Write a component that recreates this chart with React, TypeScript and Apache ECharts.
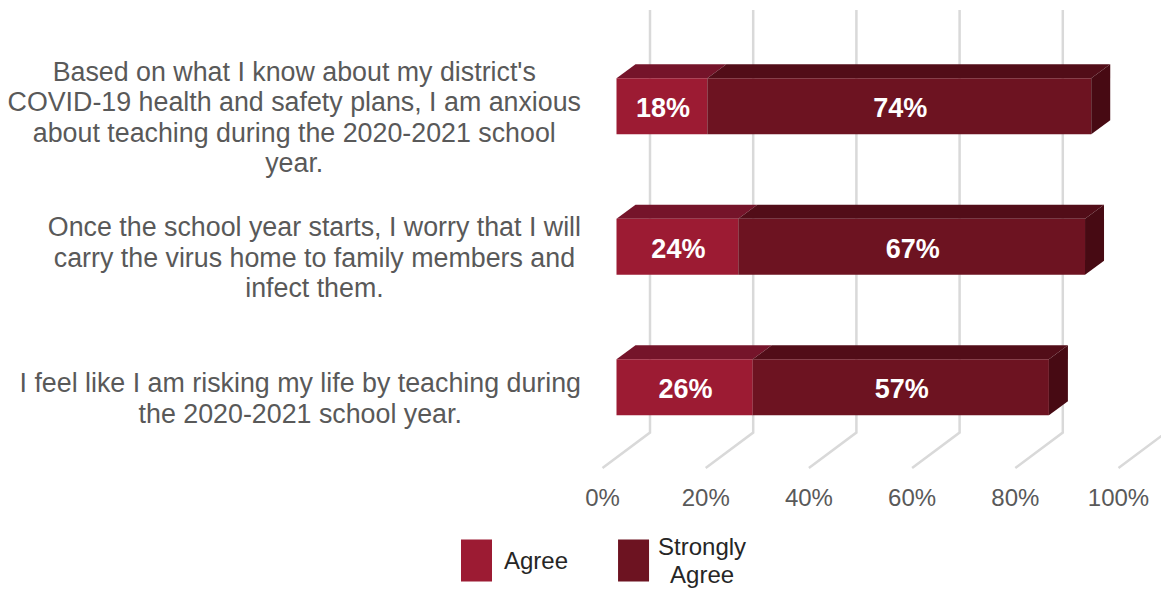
import React, { useEffect, useRef } from "react";
import * as echarts from "echarts";

const categories = [
  "Based on what I know about my district's\nCOVID-19 health and safety plans, I am anxious\nabout teaching during the 2020-2021 school\nyear.",
  "Once the school year starts, I worry that I will\ncarry the virus home to family members and\ninfect them.",
  "I feel like I am risking my life by teaching during\nthe 2020-2021 school year.",
];
const agree = [17.6, 23.6, 26.4];
const stronglyAgree = [74.4, 67.2, 57.4];
const ticks = [0, 20, 40, 60, 80, 100];

const FONT = "'Liberation Sans', Arial, sans-serif";
const DEPTH_X = 19;
const DEPTH_Y = 14;
const FRONT_INSET = 14;
const BAR_H = 56;

const centred = (s: string) =>
  s.split("\n").map((l) => `{c|${l}}`).join("\n");

function barRenderer(front: string, top: string, side: string | null) {
  return (_p: any, api: any) => {
    const start = api.coord([api.value(0), api.value(2)]);
    const end = api.coord([api.value(1), api.value(2)]);
    const x0 = start[0] + FRONT_INSET;
    const x1 = end[0] + FRONT_INSET;
    const y0 = start[1] - BAR_H / 2;
    const children: any[] = [
      {
        type: "polygon",
        shape: {
          points: [
            [x0, y0],
            [x0 + DEPTH_X, y0 - DEPTH_Y],
            [x1 + DEPTH_X, y0 - DEPTH_Y],
            [x1, y0],
          ],
        },
        style: { fill: top },
      },
      { type: "rect", shape: { x: x0, y: y0, width: x1 - x0, height: BAR_H }, style: { fill: front } },
    ];
    if (side) {
      children.push({
        type: "polygon",
        shape: {
          points: [
            [x1, y0],
            [x1 + DEPTH_X, y0 - DEPTH_Y],
            [x1 + DEPTH_X, y0 - DEPTH_Y + BAR_H],
            [x1, y0 + BAR_H],
          ],
        },
        style: { fill: side },
      });
    }
    children.push({
      type: "text",
      style: {
        x: (x0 + x1) / 2 + 1,
        y: y0 + BAR_H / 2 + 2,
        text: `${Math.round(api.value(1) - api.value(0))}%`,
        fill: "#ffffff",
        font: `bold 27px ${FONT}`,
        align: "center",
        verticalAlign: "middle",
      },
    });
    return { type: "group", children };
  };
}

export default function App() {
  const ref = useRef<HTMLDivElement>(null);
  useEffect(() => {
    document.body.style.margin = "0";
    const chart = echarts.init(ref.current!, undefined, { renderer: "svg" });
    chart.setOption({
      animation: false,
      backgroundColor: "#ffffff",
      textStyle: { fontFamily: FONT },
      grid: { left: 602.5, top: 36, width: 516, height: 421.5 },
      xAxis: {
        type: "value",
        min: 0,
        max: 100,
        interval: 20,
        axisLine: { show: false },
        axisTick: { show: false },
        splitLine: { show: false },
        axisLabel: {
          margin: 28,
          fontSize: 24,
          fontFamily: FONT,
          color: "#595959",
          formatter: (v: number) => `${v}%`,
          hideOverlap: false,
        },
      },
      yAxis: {
        type: "category",
        inverse: true,
        data: categories,
        axisLine: { show: false },
        axisTick: { show: false },
        splitLine: { show: false },
        axisLabel: {
          interval: 0,
          margin: 21.5,
          align: "right",
          color: "#595959",
          fontSize: 26.8,
          fontFamily: FONT,
          lineHeight: 30.5,
          padding: [22, 0, 0, 0],
          formatter: (s: string) => centred(s),
          rich: { c: { align: "center", color: "#595959", fontSize: 26.8, fontFamily: FONT, lineHeight: 30.5 } },
        },
      },
      legend: {
        left: 461,
        top: 534.5,
        padding: 0,
        orient: "horizontal",
        data: ["Agree", "Strongly Agree"],
        icon: "rect",
        itemWidth: 31,
        itemHeight: 42,
        itemGap: 50,
        formatter: (n: string) => (n === "Agree" ? "{c|Agree}" : "{d|Strongly}\n{d|Agree}"),
        textStyle: {
          rich: {
            c: { align: "center", fontSize: 24, color: "#262626", fontFamily: FONT, lineHeight: 28, padding: [0, 0, 0, 7] },
            d: { align: "center", fontSize: 24, color: "#262626", fontFamily: FONT, lineHeight: 28, padding: [0, 0, 0, 4] },
          },
        },
      },
      series: [
        {
          type: "custom",
          silent: true,
          coordinateSystem: "cartesian2d",
          data: ticks.map((t) => [t, 0]),
          encode: { x: 0, y: 1 },
          renderItem: (p: any, api: any) => {
            const x = api.coord([api.value(0), 0])[0];
            const cs = p.coordSys;
            const floorY = cs.y + cs.height + 10.5;
            const wallX = x + 47.5;
            const wallY = floorY - 35.5;
            return {
              type: "polyline",
              shape: { points: [[x, floorY], [wallX, wallY], [wallX, cs.y - 26]] },
              style: { fill: "none", stroke: "#d9d9d9", lineWidth: 2.5 },
            };
          },
        },
        {
          name: "Agree",
          type: "custom",
          coordinateSystem: "cartesian2d",
          itemStyle: { color: "#9c1b33" },
          data: agree.map((v, i) => [0, v, i]),
          encode: { x: [0, 1], y: 2 },
          renderItem: barRenderer("#9c1b33", "#75142a", null),
        },
        {
          name: "Strongly Agree",
          type: "custom",
          coordinateSystem: "cartesian2d",
          itemStyle: { color: "#6d1321" },
          data: stronglyAgree.map((v, i) => [agree[i], agree[i] + v, i]),
          encode: { x: [0, 1], y: 2 },
          renderItem: barRenderer("#6d1321", "#520d18", "#470a13"),
        },
      ],
    });
    return () => chart.dispose();
  }, []);
  return <div ref={ref} style={{ width: 1161, height: 590 }} />;
}
